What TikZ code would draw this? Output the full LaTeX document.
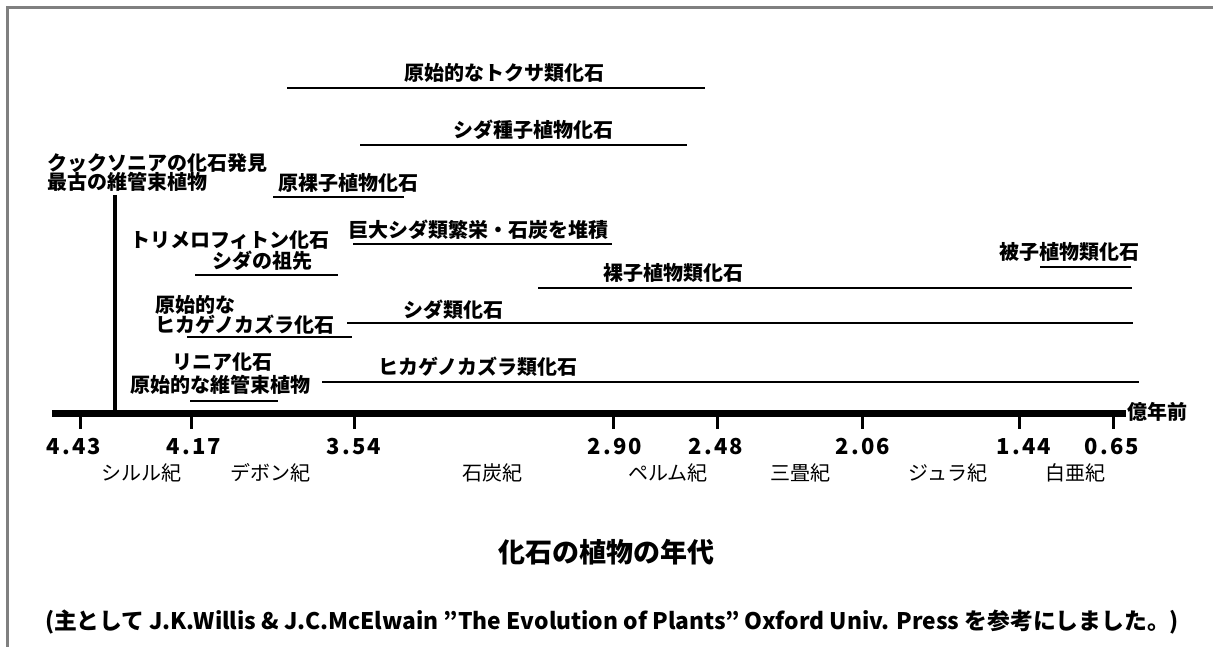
\documentclass[tikz,border=0pt]{standalone}
\usepackage{fontspec}
\newfontfamily\jp{Noto Sans CJK JP}
\newfontfamily\jpnum{Noto Sans CJK JP}[LetterSpace=10]
\begin{document}
\begin{tikzpicture}[x=1pt,y=-1pt,
  lbl/.style={font=\jp\bfseries\fontsize{20}{24}\selectfont, inner sep=0pt},
  per/.style={font=\jp\fontsize{20}{24}\selectfont, inner sep=0pt},
  num/.style={font=\jpnum\bfseries\fontsize{22}{26}\selectfont, inner sep=0pt},
  ttl/.style={font=\jp\bfseries\fontsize{27}{32}\selectfont, inner sep=0pt},
  cite/.style={font=\jp\bfseries\fontsize{22.8}{27}\selectfont, inner sep=0pt},
  bar/.style={line width=2.5pt},
  vbar/.style={line width=4pt},
  axisline/.style={line width=7pt},
  tickline/.style={line width=3pt},
  frame/.style={draw=gray, line width=2.5pt}]
\useasboundingbox (0,0) rectangle (1213,647);
\draw[frame] (7.5,647) -- (7.5,7.5) -- (1213,7.5);

% top ranges
\node[lbl] (tokusa) at (504,73) {原始的なトクサ類化石};
\coordinate (tokS) at (287,88); \coordinate (tokE) at (705,88);
\draw[bar] (tokS) -- (tokE);

\node[lbl] (shushi) at (533,130) {シダ種子植物化石};
\coordinate (shuS) at (360,145); \coordinate (shuE) at (687,145);
\draw[bar] (shuS) -- (shuE);

\node[lbl, anchor=west] (cook1) at (47,163) {クックソニアの化石発見};
\node[lbl, anchor=west] (cook2) at (47,182) {最古の維管束植物};
\coordinate (cookS) at (115,195); \coordinate (cookE) at (115,413);
\draw[vbar] (cookS) -- (cookE);

\node[lbl, anchor=west] (genra) at (278,183) {原裸子植物化石};
\coordinate (genS) at (273,197); \coordinate (genE) at (404,197);
\draw[bar] (genS) -- (genE);

\node[lbl, anchor=west] (kyodai) at (348,230) {巨大シダ類繁栄・石炭を堆積};
\coordinate (kyoS) at (353,244); \coordinate (kyoE) at (612,244);
\draw[bar] (kyoS) -- (kyoE);

\node[lbl, anchor=west] (tori1) at (130,240) {トリメロフィトン化石};
\node[lbl] (tori2) at (262,261) {シダの祖先};
\coordinate (toriS) at (195,275); \coordinate (toriE) at (338,275);
\draw[bar] (toriS) -- (toriE);

\node[lbl] (hishi) at (1069,252) {被子植物類化石};
\coordinate (hiS) at (1040,267); \coordinate (hiE) at (1131,267);
\draw[bar] (hiS) -- (hiE);

\node[lbl] (rashi) at (673,273) {裸子植物類化石};
\coordinate (raS) at (538,288); \coordinate (raE) at (1132,288);
\draw[bar] (raS) -- (raE);

\node[lbl, anchor=west] (hika1) at (155,305) {原始的な};
\node[lbl, anchor=west] (hika2) at (155,325) {ヒカゲノカズラ化石};
\coordinate (hikS) at (187,337); \coordinate (hikE) at (352,337);
\draw[bar] (hikS) -- (hikE);

\node[lbl, anchor=west] (shida) at (403,310) {シダ類化石};
\coordinate (shiS) at (347,323); \coordinate (shiE) at (1133,323);
\draw[bar] (shiS) -- (shiE);

\node[lbl] (rinia1) at (222,362) {リニア化石};
\node[lbl] (rinia2) at (220,385) {原始的な維管束植物};
\coordinate (rinS) at (190,401); \coordinate (rinE) at (278,401);
\draw[bar] (rinS) -- (rinE);

\node[lbl, anchor=west] (hikarui) at (378,367) {ヒカゲノカズラ類化石};
\coordinate (hrS) at (322,382); \coordinate (hrE) at (1139,382);
\draw[bar] (hrS) -- (hrE);

% axis
\coordinate (ax0) at (52,413); \coordinate (ax1) at (1126,413);
\draw[axisline] (ax0) -- (ax1);
\node[lbl, anchor=west] (unit) at (1127,412) {億年前};

\foreach \tx/\lx/\v [count=\i] in {80/74/4.43, 191/194/4.17, 354/354/3.54, 613/615/2.90, 717/716/2.48, 862/863/2.06, 1019/1024/1.44, 1113/1112/0.65} {
  \draw[tickline] (\tx,416) -- (\tx,429);
  \node[num] (n\i) at (\lx,447) {\v};
}

\node[per] (p1) at (141,473) {シルル紀};
\node[per] (p2) at (270,473) {デボン紀};
\node[per] (p3) at (492,473) {石炭紀};
\node[per] (p4) at (668,473) {ペルム紀};
\node[per] (p5) at (800,473) {三畳紀};
\node[per] (p6) at (948,473) {ジュラ紀};
\node[per] (p7) at (1075,473) {白亜紀};

\node[ttl] (title) at (606,552) {化石の植物の年代};
\node[cite] (cite) at (612,622) {(主として J.K.Willis \& J.C.McElwain ”The Evolution of Plants” Oxford Univ. Press を参考にしました。)};
\end{tikzpicture}
\end{document}
